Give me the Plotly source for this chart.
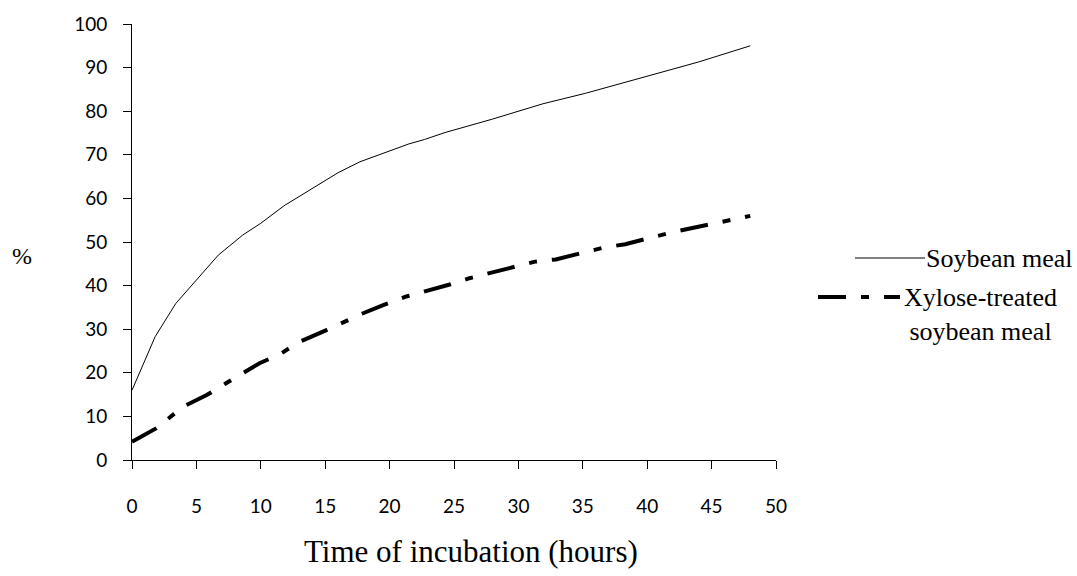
import plotly.graph_objects as go

soy_x = [0, 1.8, 3.4, 5, 6.7, 8.6, 10, 11.8, 14, 16, 17.7, 19.5, 21.5, 22.7, 24.3, 28, 31.9, 35.2, 40, 44, 48]
soy_y = [16, 28.3, 35.9, 41.3, 47, 51.6, 54.3, 58.3, 62.3, 65.9, 68.4, 70.4, 72.5, 73.5, 75.1, 78.2, 81.7, 84.1, 88.0, 91.3, 95]

xyl_x = [0, 1.9, 3.95, 5.8, 7.3, 9.9, 11.5, 13, 15.1, 17.9, 19.5, 21.3, 24.6, 26.2, 31.3, 32.9, 36.6, 38.3, 41.9, 48]
xyl_y = [4.2, 7.3, 12.2, 14.9, 17.6, 22.2, 24.3, 27.1, 29.8, 33.6, 35.5, 37.5, 40.2, 41.7, 45.5, 46.0, 48.7, 49.5, 52.2, 56]

x_ticks = [0, 5, 10, 15, 20, 25, 30, 35, 40, 45, 50]
y_ticks = [0, 10, 20, 30, 40, 50, 60, 70, 80, 90, 100]

series_names = ["Soybean meal", "Xylose-treated<br>soybean meal"]

DASH = "28px,15px,8px,15px"

fig = go.Figure()
fig.add_trace(go.Scatter(x=soy_x, y=soy_y, mode="lines", name=series_names[0],
                         line=dict(color="black", width=1), showlegend=False))
fig.add_trace(go.Scatter(x=xyl_x, y=xyl_y, mode="lines", name=series_names[1],
                         line=dict(color="black", width=4, dash=DASH),
                         showlegend=False))

W, H = 1077, 576
# plot area in pixel coordinates
X0, X1, Y0, Y1 = 132, 776, 24, 460
L, T = X0, Y0
R = W - X1
B = H - Y1
pw = W - L - R
ph = H - T - B

def px_x(p):
    return (p - L) / pw

def px_y(p):
    return (H - B - p) / ph

tick_font = dict(family="Lato, Noto Sans, sans-serif", size=19, color="black")

fig.update_layout(
    width=W, height=H,
    margin=dict(l=L, r=R, t=T, b=B, autoexpand=False),
    paper_bgcolor="white", plot_bgcolor="white",
    xaxis=dict(range=[0, 50], tickvals=x_ticks, ticks="outside", ticklen=8,
               tickcolor="black", showline=True, linecolor="black", linewidth=1,
               showgrid=False, zeroline=False, tickfont=tick_font,
               ticklabelstandoff=21),
    yaxis=dict(range=[0, 100], tickvals=y_ticks, ticks="outside", ticklen=8,
               tickcolor="black", showline=True, linecolor="black", linewidth=1,
               showgrid=False, zeroline=False, tickfont=tick_font,
               ticklabelstandoff=12),
    showlegend=False,
)

serif = "Liberation Serif, Times New Roman, serif"

# axis titles
fig.add_annotation(text="Time of incubation (hours)", xref="paper", yref="paper",
                   x=px_x(471), y=px_y(551), showarrow=False,
                   font=dict(family=serif, size=31, color="black"),
                   xanchor="center", yanchor="middle")
fig.add_annotation(text="%", xref="paper", yref="paper",
                   x=px_x(22), y=px_y(256), showarrow=False,
                   font=dict(family=serif, size=24, color="black"),
                   xanchor="center", yanchor="middle")

# legend
fig.add_shape(type="line", xref="paper", yref="paper",
              x0=px_x(855), x1=px_x(925), y0=px_y(258), y1=px_y(258),
              line=dict(color="black", width=1))
fig.add_annotation(text=series_names[0], xref="paper", yref="paper",
                   x=px_x(924), y=px_y(258), showarrow=False,
                   font=dict(family=serif, size=26, color="black"),
                   xanchor="left", yanchor="middle")
fig.add_shape(type="line", xref="paper", yref="paper",
              x0=px_x(818), x1=px_x(900), y0=px_y(297), y1=px_y(297),
              line=dict(color="black", width=4, dash=DASH))
fig.add_annotation(text=series_names[1], xref="paper", yref="paper",
                   x=px_x(902), y=px_y(297), showarrow=False,
                   font=dict(family=serif, size=26, color="black"),
                   xanchor="left", yanchor="top", align="center", yshift=16)

fig.write_html("out.html", config={"displayModeBar": False},
               post_script="document.body.style.margin='0';")
